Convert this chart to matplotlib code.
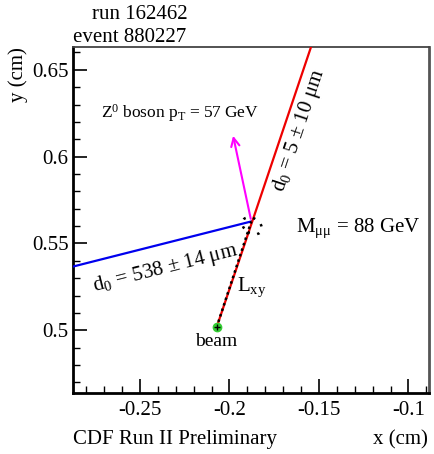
import matplotlib
matplotlib.use("Agg")
import matplotlib.pyplot as plt
from matplotlib.patches import Ellipse
from matplotlib.ticker import MultipleLocator, FuncFormatter

plt.rcParams['font.family'] = ['Liberation Serif', 'DejaVu Serif']
plt.rcParams['mathtext.fontset'] = 'custom'
plt.rcParams['mathtext.rm'] = 'Liberation Serif'
plt.rcParams['mathtext.it'] = 'Liberation Serif:italic'

# Data (cm)
beam = (-0.2072, 0.5017)
vertex = (-0.1878, 0.5627)
blue_end = (-0.2875, 0.5367)
red_end = (-0.1544, 0.6633)
arrow_tip = (-0.1983, 0.6136)
xlim = (-0.2875, -0.0885)
ylim = (0.4638, 0.6633)
xticks = [-0.25, -0.2, -0.15, -0.1]
yticks = [0.5, 0.55, 0.6, 0.65]

fig = plt.figure(figsize=(4.34, 4.54), dpi=100)
ax = fig.add_axes([0.168, 0.134, 0.8205, 0.763])
ax.set_xlim(*xlim)
ax.set_ylim(*ylim)

# Tracks
ax.plot([blue_end[0], vertex[0]], [blue_end[1], vertex[1]], color='#0000ee', lw=1.6, zorder=3)
ax.plot([beam[0], red_end[0]], [beam[1], red_end[1]], color='#ee0000', lw=1.6, zorder=3)
ax.plot([beam[0], vertex[0]], [beam[1], vertex[1]], color='black', lw=1.8, ls=(0, (1, 1.3)), zorder=4)
ax.annotate('', xy=arrow_tip, xytext=vertex,
            arrowprops=dict(arrowstyle='->,head_length=0.6,head_width=0.3', color='#ff00ff', lw=1.5),
            zorder=3)
ax.add_patch(Ellipse((vertex[0] + 0.0004, vertex[1] - 0.0025), 0.012, 0.0085, angle=-35,
                     fill=False, ec='black', lw=1.8, ls=(0, (1, 3)), zorder=4))
ax.plot(beam[0], beam[1], 'o', color='#33cc33', ms=6, zorder=5)
ax.plot(beam[0], beam[1], '+', color='black', ms=5, mew=1, zorder=6)

# Labels
ax.text(-0.2278, 0.6251, r'Z$^{0}$ boson p$_{\mathrm{T}}$ = 57 GeV', fontsize=12.5, ha='center', va='center')
ax.text(-0.1278, 0.5588, r'M$_{\mathrm{\mu\mu}}$ = 88 GeV', fontsize=15, ha='center', va='center')
ax.text(-0.2356, 0.5356, r'd$_{0}$ = 538 $\pm$ 14 μm', fontsize=15, ha='center', va='center', rotation=14.2)
ax.text(-0.1611, 0.6150, r'd$_{0}$ = 5 $\pm$ 10 μm', fontsize=15, ha='center', va='center', rotation=71.5)
ax.text(-0.1878, 0.5247, r'L$_{\mathrm{xy}}$', fontsize=15, ha='center', va='center')
ax.text(-0.2072, 0.4935, 'beam', fontsize=14, ha='center', va='center')

# Axes styling
ax.set_xticks(xticks)
ax.set_yticks(yticks)
ax.xaxis.set_minor_locator(MultipleLocator(0.01))
ax.yaxis.set_minor_locator(MultipleLocator(0.01))
fmt = FuncFormatter(lambda v, p: ('%g' % v).replace('\u2212', '-'))
ax.xaxis.set_major_formatter(fmt)
ax.yaxis.set_major_formatter(fmt)
ax.tick_params(which='both', direction='in', top=False, right=False, labelsize=15)
ax.tick_params(which='major', length=10, width=1.2)
ax.tick_params(which='minor', length=5, width=1.0)
ax.tick_params(axis='x', pad=6)
ax.tick_params(axis='y', pad=3)
for s in ['left', 'bottom']:
    ax.spines[s].set_linewidth(2)
    ax.spines[s].set_color('black')
ax.spines['top'].set_linewidth(1.3)
ax.spines['top'].set_color('#444444')
ax.spines['right'].set_linewidth(2)
ax.spines['right'].set_color('#555555')

fig.text(0.168, 0.031, 'CDF Run II Preliminary', fontsize=15, ha='left', va='center')
fig.text(0.986, 0.031, 'x (cm)', fontsize=15, ha='right', va='center')
fig.text(0.042, 0.897, 'y (cm)', fontsize=15, ha='center', va='top', rotation=90)
fig.text(0.432, 0.969, 'run 162462', fontsize=15, ha='right', va='center')
fig.text(0.168, 0.918, 'event 880227', fontsize=15, ha='left', va='center')

fig.savefig('out.png', dpi=100)
